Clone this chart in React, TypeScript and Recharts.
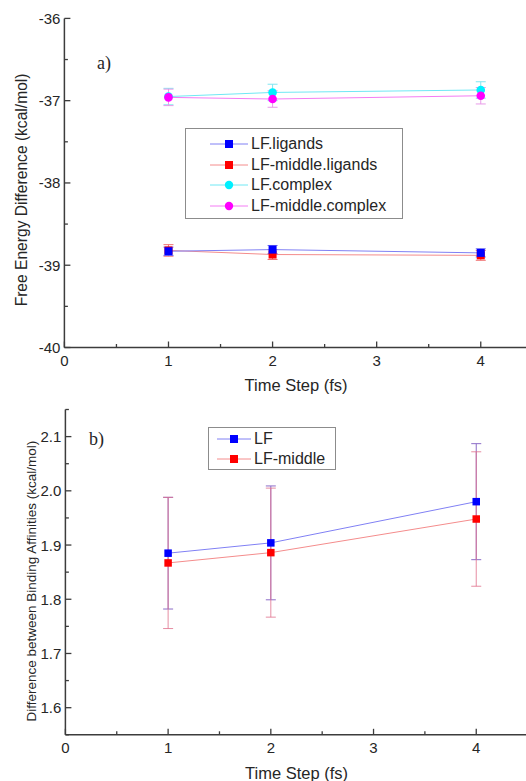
import React from 'react';
import { LineChart, Line, XAxis, YAxis, ErrorBar, Legend } from 'recharts';

// Time steps (fs) shared by both panels
const timeSteps = [1, 2, 4];

// Panel a) free energy differences (kcal/mol)
const lfLigands = [-38.83, -38.81, -38.85];
const lfLigandsErr = [0.05, 0.05, 0.05];
const lfMiddleLigands = [-38.82, -38.87, -38.88];
const lfMiddleLigandsErr = [0.07, 0.06, 0.06];
const lfComplex = [-36.95, -36.9, -36.87];
const lfComplexErr = [0.1, 0.1, 0.1];
const lfMiddleComplex = [-36.96, -36.98, -36.94];
const lfMiddleComplexErr = [0.1, 0.1, 0.1];

// Panel b) difference between binding affinities (kcal/mol)
const lfBinding = [1.885, 1.904, 1.98];
const lfBindingErr = [0.103, 0.105, 0.107];
const lfMiddleBinding = [1.867, 1.886, 1.948];
const lfMiddleBindingErr = [0.121, 0.119, 0.124];

// Axis ranges and ticks (major ticks carry labels, the rest are minor)
const xDomainA = [0, 4.45];
const xDomainB = [0, 4.5];
const xTicksA = [0, 0.5, 1, 1.5, 2, 2.5, 3, 3.5, 4];
const xTicksB = [0, 0.5, 1, 1.5, 2, 2.5, 3, 3.5, 4, 4.5];
const xTickLabels = [0, 1, 2, 3, 4];
const yDomainA = [-40, -36];
const yTicksA = [-40, -39.5, -39, -38.5, -38, -37.5, -37, -36.5, -36];
const yTickLabelsA = [-40, -39, -38, -37, -36];
const yDomainB = [1.55, 2.15];
const yTicksB = [1.55, 1.6, 1.65, 1.7, 1.75, 1.8, 1.85, 1.9, 1.95, 2.0, 2.05, 2.1, 2.15];
const yTickLabelsB = [1.6, 1.7, 1.8, 1.9, 2.0, 2.1];

const legendA = ['LF.ligands', 'LF-middle.ligands', 'LF.complex', 'LF-middle.complex'];
const legendB = ['LF', 'LF-middle'];

const panelAData = timeSteps.map((t, i) => ({
  t,
  lfLig: lfLigands[i],
  lfLigErr: lfLigandsErr[i],
  lfMidLig: lfMiddleLigands[i],
  lfMidLigErr: lfMiddleLigandsErr[i],
  lfCpx: lfComplex[i],
  lfCpxErr: lfComplexErr[i],
  lfMidCpx: lfMiddleComplex[i],
  lfMidCpxErr: lfMiddleComplexErr[i],
}));

const panelBData = timeSteps.map((t, i) => ({
  t,
  lf: lfBinding[i],
  lfErr: lfBindingErr[i],
  lfMid: lfMiddleBinding[i],
  lfMidErr: lfMiddleBindingErr[i],
}));

const SANS = "Arial, 'Liberation Sans', Arimo, sans-serif";
const SERIF = "'Times New Roman', 'Liberation Serif', serif";
const AXIS_COLOR = '#3c3c3c';
const TEXT_COLOR = '#262626';
const axisLineStyle = { stroke: AXIS_COLOR, strokeWidth: 1.5 };

const isIn = (list: number[], v: number) => list.some((l) => Math.abs(l - v) < 1e-9);

type Side = 'left' | 'right' | 'top' | 'bottom';

// Inward-pointing tick marks, with labels only on the left and bottom axes
const makeTick = (side: Side, labels: number[], fmt: (v: number) => string, fontSize: number) =>
  (props: any) => {
    const { x, y, payload, index } = props;
    const v = payload.value as number;
    const major = isIn(labels, v);
    const len = major ? 6 : 3.5;
    let line: React.ReactNode = null;
    let label: React.ReactNode = null;
    if (side === 'left') {
      line = <line x1={x} y1={y} x2={x + len} y2={y} stroke={AXIS_COLOR} strokeWidth={1.3} />;
      if (major)
        label = (
          <text x={x - 4} y={y} textAnchor="end" dominantBaseline="central" fontSize={fontSize} fontFamily={SANS} fill={TEXT_COLOR}>
            {fmt(v)}
          </text>
        );
    } else if (side === 'right') {
      line = <line x1={x} y1={y} x2={x - len} y2={y} stroke={AXIS_COLOR} strokeWidth={1.3} />;
    } else if (side === 'top') {
      line = <line x1={x} y1={y} x2={x} y2={y + len} stroke={AXIS_COLOR} strokeWidth={1.3} />;
    } else {
      line = <line x1={x} y1={y} x2={x} y2={y - len} stroke={AXIS_COLOR} strokeWidth={1.3} />;
      if (major)
        label = (
          <text x={x} y={y + 13} textAnchor="middle" dominantBaseline="central" fontSize={fontSize} fontFamily={SANS} fill={TEXT_COLOR}>
            {fmt(v)}
          </text>
        );
    }
    return (
      <g key={`tick-${side}-${index}`}>
        {line}
        {label}
      </g>
    );
  };

const fmtInt = (v: number) => String(Math.round(v));
const fmtOne = (v: number) => v.toFixed(1);

const XTitle = (dy: number, fontSize: number) => (props: any) => {
  const vb = props.viewBox;
  const cx = vb.x + vb.width / 2;
  return (
    <text x={cx} y={vb.y + dy} textAnchor="middle" dominantBaseline="central" fontSize={fontSize} fontFamily={SANS} fill={TEXT_COLOR}>
      Time Step (fs)
    </text>
  );
};

const YTitle = (text: string, dx: number, dy: number, fontSize: number) => (props: any) => {
  const vb = props.viewBox;
  const cx = vb.x + dx;
  const cy = vb.y + vb.height / 2 + dy;
  return (
    <text
      x={cx}
      y={cy}
      transform={`rotate(-90 ${cx} ${cy})`}
      textAnchor="middle"
      dominantBaseline="central"
      fontSize={fontSize}
      fontFamily={SANS}
      fill={TEXT_COLOR}
    >
      {text}
    </text>
  );
};

const squareDot = (fill: string, size: number) => (p: any) =>
  p.cx == null ? <g key={`d-${p.index}`} /> : (
    <rect key={`d-${p.index}`} x={p.cx - size / 2} y={p.cy - size / 2} width={size} height={size} fill={fill} />
  );

const circleDot = (fill: string, r: number) => (p: any) =>
  p.cx == null ? <g key={`d-${p.index}`} /> : <circle key={`d-${p.index}`} cx={p.cx} cy={p.cy} r={r} fill={fill} />;

type LegendItem = { name: string; line: string; fill: string; shape: 'square' | 'circle' };

const LegendBox = ({
  items,
  width,
  padding,
  rowHeight,
  lineWidth,
}: {
  items: LegendItem[];
  width: number;
  padding: string;
  rowHeight: number;
  lineWidth: number;
}) => (
  <div
    style={{
      boxSizing: 'border-box',
      width,
      padding,
      border: '1px solid #8c8c8c',
      background: '#fff',
      fontFamily: SANS,
      fontSize: 16,
      color: TEXT_COLOR,
    }}
  >
    {items.map((it) => (
      <div key={it.name} style={{ display: 'flex', alignItems: 'center', height: rowHeight, whiteSpace: 'nowrap' }}>
        <svg width={lineWidth} height={12} style={{ display: 'block' }}>
          <line x1={0} y1={6} x2={lineWidth} y2={6} stroke={it.line} strokeWidth={1} />
          {it.shape === 'square' ? (
            <rect x={lineWidth / 2 - 4} y={2} width={8} height={8} fill={it.fill} />
          ) : (
            <circle cx={lineWidth / 2} cy={6} r={4.2} fill={it.fill} />
          )}
        </svg>
        <span style={{ marginLeft: 3 }}>{it.name}</span>
      </div>
    ))}
  </div>
);

const BLUE = '#0000ff';
const RED = '#ff0000';
const CYAN = '#00f0ff';
const MAGENTA = '#ff00ff';
const BLUE_LINE = '#8080f4';
const RED_LINE = '#f48c8c';
const CYAN_LINE = '#70e8f4';
const MAGENTA_LINE = '#f47cf4';

const legendItemsA: LegendItem[] = [
  { name: legendA[0], line: BLUE_LINE, fill: BLUE, shape: 'square' },
  { name: legendA[1], line: RED_LINE, fill: RED, shape: 'square' },
  { name: legendA[2], line: CYAN_LINE, fill: CYAN, shape: 'circle' },
  { name: legendA[3], line: MAGENTA_LINE, fill: MAGENTA, shape: 'circle' },
];

const legendItemsB: LegendItem[] = [
  { name: legendB[0], line: BLUE_LINE, fill: BLUE, shape: 'square' },
  { name: legendB[1], line: RED_LINE, fill: RED, shape: 'square' },
];

const PanelA = () => (
  <LineChart width={560} height={395} data={panelAData} margin={{ top: 18.4, right: 32.4, bottom: 0, left: 0 }}>
    <XAxis
      dataKey="t"
      type="number"
      domain={xDomainA}
      ticks={xTicksA}
      interval={0}
      allowDataOverflow
      tickSize={0}
      tickMargin={0}
      tickLine={false}
      axisLine={axisLineStyle}
      tick={makeTick('bottom', xTickLabels, fmtInt, 15)}
      height={47.5}
      label={{ content: XTitle(37, 16.5) }}
    />
    <XAxis
      xAxisId="top"
      orientation="top"
      dataKey="t"
      type="number"
      domain={xDomainA}
      ticks={xTicksA}
      interval={0}
      allowDataOverflow
      tickSize={0}
      tickMargin={0}
      tickLine={false}
      axisLine={axisLineStyle}
      tick={makeTick('top', xTickLabels, fmtInt, 15)}
      height={0}
    />
    <YAxis
      type="number"
      domain={yDomainA}
      ticks={yTicksA}
      interval={0}
      allowDataOverflow
      tickSize={0}
      tickMargin={0}
      tickLine={false}
      axisLine={axisLineStyle}
      tick={makeTick('left', yTickLabelsA, fmtInt, 15)}
      width={64.4}
      label={{ content: YTitle('Free Energy Difference (kcal/mol)', 22, 7, 15.6) }}
    />
    <YAxis
      yAxisId="right"
      orientation="right"
      type="number"
      domain={yDomainA}
      ticks={yTicksA}
      interval={0}
      allowDataOverflow
      tickSize={0}
      tickMargin={0}
      tickLine={false}
      axisLine={axisLineStyle}
      tick={makeTick('right', yTickLabelsA, fmtInt, 15)}
      width={0}
    />
    <Line dataKey="lfMidLig" stroke={RED_LINE} strokeWidth={1} dot={squareDot(RED, 8)} activeDot={false} isAnimationActive={false}>
      <ErrorBar dataKey="lfMidLigErr" direction="y" width={5} stroke="#f07070" strokeWidth={1} isAnimationActive={false} />
    </Line>
    <Line dataKey="lfLig" stroke={BLUE_LINE} strokeWidth={1} dot={squareDot(BLUE, 8)} activeDot={false} isAnimationActive={false}>
      <ErrorBar dataKey="lfLigErr" direction="y" width={5} stroke="#7070f0" strokeWidth={1} isAnimationActive={false} />
    </Line>
    <Line dataKey="lfCpx" stroke={CYAN_LINE} strokeWidth={1} dot={circleDot(CYAN, 4.3)} activeDot={false} isAnimationActive={false}>
      <ErrorBar dataKey="lfCpxErr" direction="y" width={5} stroke="#80e6f0" strokeWidth={1} isAnimationActive={false} />
    </Line>
    <Line dataKey="lfMidCpx" stroke={MAGENTA_LINE} strokeWidth={1} dot={circleDot(MAGENTA, 4.3)} activeDot={false} isAnimationActive={false}>
      <ErrorBar dataKey="lfMidCpxErr" direction="y" width={5} stroke="#e89ae8" strokeWidth={1} isAnimationActive={false} />
    </Line>
    <Legend
      layout="vertical"
      align="center"
      verticalAlign="middle"
      wrapperStyle={{ left: 185, top: 128, width: 'auto' }}
      content={() => (
        <LegendBox items={legendItemsA} width={218} padding="5px 0 2px 24px" rowHeight={20.5} lineWidth={38} />
      )}
    />
  </LineChart>
);

const PanelB = () => (
  <LineChart width={560} height={391} data={panelBData} margin={{ top: 19.5, right: 32.4, bottom: 0, left: 0 }}>
    <XAxis
      dataKey="t"
      type="number"
      domain={xDomainB}
      ticks={xTicksB}
      interval={0}
      allowDataOverflow
      tickSize={0}
      tickMargin={0}
      tickLine={false}
      axisLine={axisLineStyle}
      tick={makeTick('bottom', xTickLabels, fmtInt, 15)}
      height={46.2}
      label={{ content: XTitle(38, 16.5) }}
    />
    <XAxis
      xAxisId="top"
      orientation="top"
      dataKey="t"
      type="number"
      domain={xDomainB}
      ticks={xTicksB}
      interval={0}
      allowDataOverflow
      tickSize={0}
      tickMargin={0}
      tickLine={false}
      axisLine={axisLineStyle}
      tick={makeTick('top', xTickLabels, fmtInt, 15)}
      height={0}
    />
    <YAxis
      type="number"
      domain={yDomainB}
      ticks={yTicksB}
      interval={0}
      allowDataOverflow
      tickSize={0}
      tickMargin={0}
      tickLine={false}
      axisLine={axisLineStyle}
      tick={makeTick('left', yTickLabelsB, fmtOne, 15)}
      width={65.4}
      label={{ content: YTitle('Difference between Binding Affinities (kcal/mol)', 32, 9, 13.5) }}
    />
    <YAxis
      yAxisId="right"
      orientation="right"
      type="number"
      domain={yDomainB}
      ticks={yTicksB}
      interval={0}
      allowDataOverflow
      tickSize={0}
      tickMargin={0}
      tickLine={false}
      axisLine={axisLineStyle}
      tick={makeTick('right', yTickLabelsB, fmtOne, 15)}
      width={0}
    />
    <Line dataKey="lf" stroke={BLUE_LINE} strokeWidth={1} dot={squareDot(BLUE, 7.5)} activeDot={false} isAnimationActive={false}>
      <ErrorBar dataKey="lfErr" direction="y" width={5} stroke="#8c6cc8" strokeWidth={1} isAnimationActive={false} />
    </Line>
    <Line dataKey="lfMid" stroke={RED_LINE} strokeWidth={1} dot={squareDot(RED, 7.5)} activeDot={false} isAnimationActive={false}>
      <ErrorBar dataKey="lfMidErr" direction="y" width={5} stroke="#e0708c" strokeOpacity={0.8} strokeWidth={1} isAnimationActive={false} />
    </Line>
    <Legend
      layout="vertical"
      align="center"
      verticalAlign="middle"
      wrapperStyle={{ left: 208, top: 37, width: 'auto' }}
      content={() => (
        <LegendBox items={legendItemsB} width={127.5} padding="1px 0 0 8px" rowHeight={20.2} lineWidth={34} />
      )}
    />
  </LineChart>
);

export default function App() {
  return (
    <div style={{ position: 'relative', width: 526, height: 781, overflow: 'hidden', background: '#fff' }}>
      <style>{'body{margin:0}'}</style>
      <div style={{ position: 'absolute', left: 0, top: 0 }}>
        <PanelA />
      </div>
      <div style={{ position: 'absolute', left: 0, top: 390 }}>
        <PanelB />
      </div>
      <div style={{ position: 'absolute', left: 97, top: 52, fontFamily: SERIF, fontSize: 18, lineHeight: '22px', color: TEXT_COLOR }}>
        a)
      </div>
      <div style={{ position: 'absolute', left: 89, top: 428, fontFamily: SERIF, fontSize: 18, lineHeight: '22px', color: TEXT_COLOR }}>
        b)
      </div>
    </div>
  );
}
